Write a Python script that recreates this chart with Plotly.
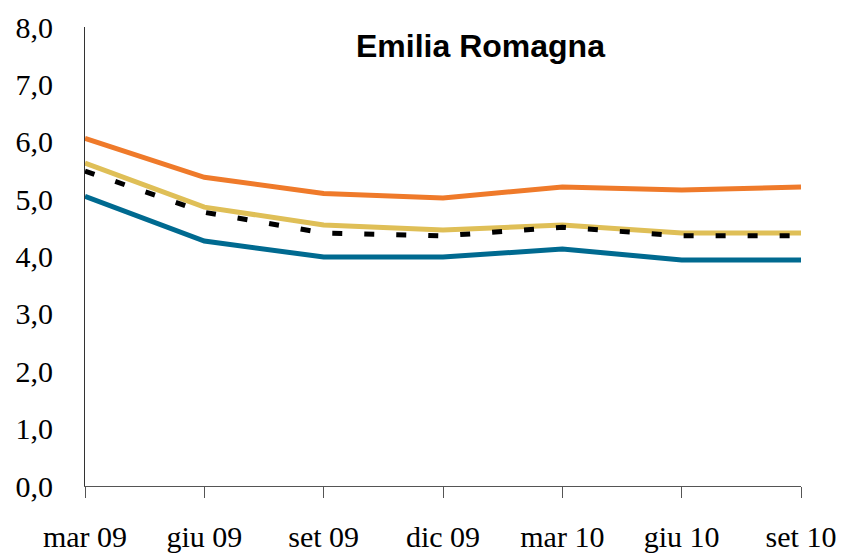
import plotly.graph_objects as go

# Data
quarters = ['mar 09', 'giu 09', 'set 09', 'dic 09', 'mar 10', 'giu 10', 'set 10']
orange_vals = [6.06, 5.38, 5.10, 5.02, 5.21, 5.16, 5.21]
gold_vals = [5.63, 4.86, 4.55, 4.46, 4.55, 4.41, 4.41]
black_vals = [5.49, 4.77, 4.41, 4.36, 4.51, 4.36, 4.36]
blue_vals = [5.05, 4.27, 3.99, 3.99, 4.13, 3.94, 3.94]
y_ticks = [0, 1, 2, 3, 4, 5, 6, 7, 8]
y_labels = ['0,0', '1,0', '2,0', '3,0', '4,0', '5,0', '6,0', '7,0', '8,0']

COLORS = {
    'orange': '#EF7A2A',
    'gold': '#DFBF57',
    'black': '#000000',
    'blue': '#006A90',
}

fig = go.Figure()

for vals, col, dash in [
    (orange_vals, COLORS['orange'], 'solid'),
    (blue_vals, COLORS['blue'], 'solid'),
    (gold_vals, COLORS['gold'], 'solid'),
    (black_vals, COLORS['black'], '10px,22px'),
]:
    fig.add_trace(go.Scatter(
        x=quarters, y=vals, mode='lines',
        line=dict(color=col, width=5, dash=dash),
        showlegend=False, hoverinfo='skip'
    ))

fig.add_annotation(
    text='<b>Emilia Romagna</b>', xref='paper', yref='paper',
    x=0.553, y=0.959, xanchor='center', yanchor='middle', showarrow=False,
    font=dict(family='Liberation Sans, Arial', size=32, color='black')
)

# page body has an 8px margin, so the figure starts at (8, 8) in the window
fig.update_layout(
    width=837, height=545,
    margin=dict(l=77, r=44, t=19, b=67),
    plot_bgcolor='white', paper_bgcolor='white',
    font=dict(family='Liberation Serif, Times New Roman', size=29, color='black'),
    xaxis=dict(
        type='category', range=[0, 6], showgrid=False, zeroline=False,
        showline=True, linecolor='#555555', linewidth=1,
        ticks='outside', ticklen=11, tickcolor='#555555',
        ticklabelstandoff=13, tickfont=dict(size=30), automargin=False,
    ),
    yaxis=dict(
        range=[0, 8], tickvals=y_ticks, ticktext=y_labels,
        showgrid=False, zeroline=False,
        showline=True, linecolor='#333333', linewidth=1,
        ticks='', ticklabelstandoff=25, tickfont=dict(size=30), automargin=False,
    ),
)

fig.write_html("out.html")
